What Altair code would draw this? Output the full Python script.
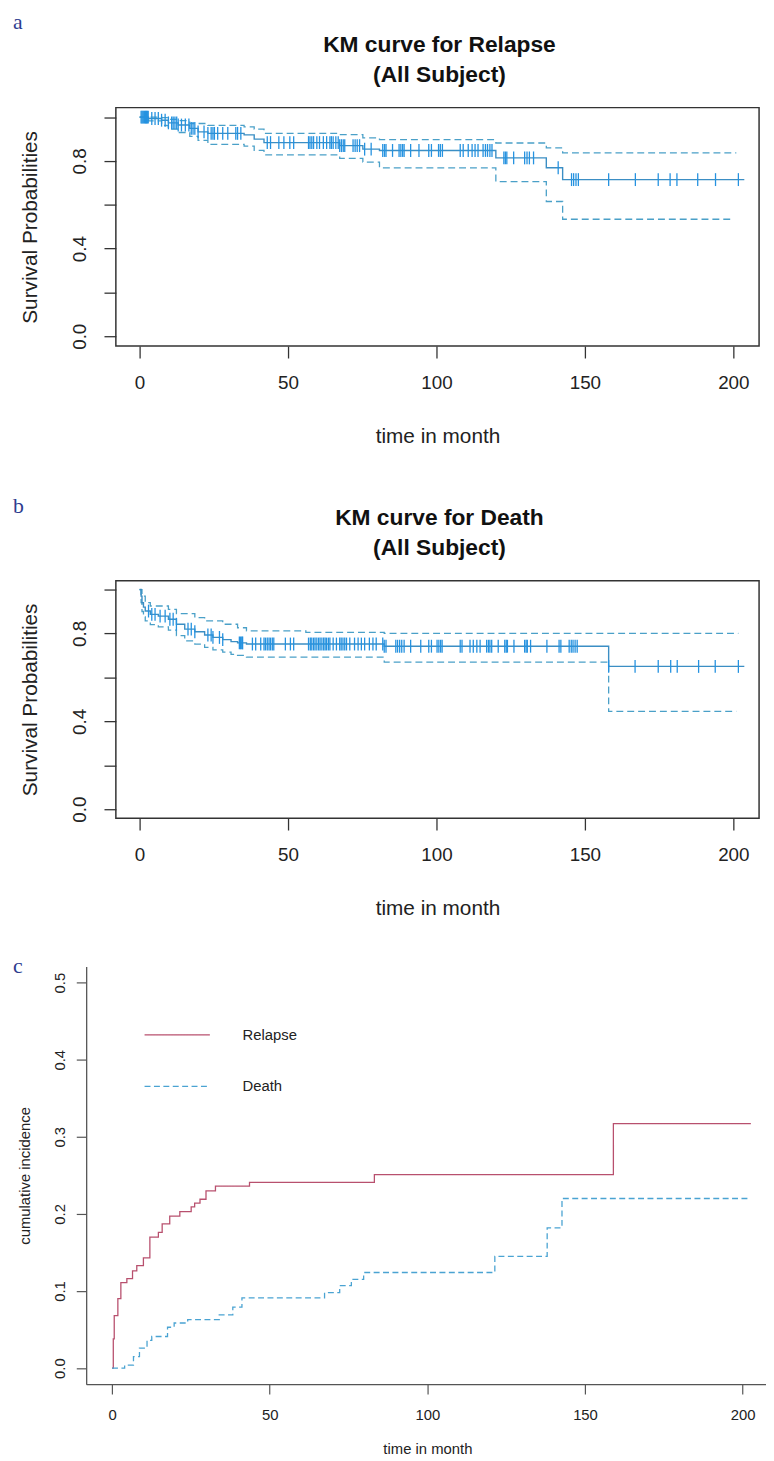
import altair as alt
import pandas as pd

FONT = "Liberation Sans"

# ---------------- Panel a : KM curve for Relapse ----------------
rel_km_time = [0, 3, 7.4, 9.7, 13, 16.9, 19.7, 23, 35.2, 38.6, 41.9, 67.4, 75.2, 80.8, 120, 137, 142.5, 203.7]
rel_km_surv = [1.0, 0.994, 0.986, 0.974, 0.964, 0.949, 0.933, 0.926, 0.919, 0.900, 0.884, 0.870, 0.854, 0.848, 0.814, 0.769, 0.715, 0.715]
rel_up_time = [0, 7.4, 9.7, 13, 16.9, 23, 35.2, 38.6, 41.9, 67.4, 75.2, 80.8, 120, 137, 142.5, 201]
rel_up_surv = [1.0, 0.998, 0.99, 0.984, 0.971, 0.963, 0.956, 0.945, 0.926, 0.92, 0.905, 0.897, 0.882, 0.86, 0.837, 0.837]
rel_lo_time = [0, 3, 7.4, 9.7, 13, 16.9, 19.7, 23, 35.2, 38.6, 41.9, 67.4, 75.2, 80.8, 120, 137, 142.5, 200]
rel_lo_surv = [1.0, 0.983, 0.962, 0.945, 0.93, 0.912, 0.894, 0.876, 0.868, 0.848, 0.828, 0.812, 0.795, 0.769, 0.706, 0.615, 0.534, 0.534]
rel_censor = [0.5, 0.8, 1.1, 1.4, 1.7, 2.0, 2.3, 2.6, 2.9, 4.1, 5.2, 6.3, 7.4, 8.6, 9.7, 10.8, 11.3, 11.9,
              12.5, 13.0, 14.1, 15.4, 16.6, 17.4, 18.0, 18.6, 19.7, 21.7, 23.0, 24.1, 24.7, 25.2, 26.3, 28.0,
              29.7, 32.4, 33.0, 34.1, 43.0, 44.1, 46.9, 48.6, 50.6, 51.9, 56.9, 57.4, 58.0, 58.6, 59.7, 60.6,
              61.9, 63.0, 64.1, 64.6, 65.2, 66.1, 66.9, 67.4, 68.0, 68.6, 69.1, 71.9, 72.6, 73.3, 74.1, 75.8,
              78.0, 81.9, 82.5, 83.0, 85.2, 87.4, 88.0, 88.6, 89.1, 91.3, 94.1, 97.4, 98.3, 100.7, 101.3, 102.0,
              108.0, 109.0, 110.7, 112.0, 113.0, 114.0, 115.7, 116.5, 117.2, 118.0, 118.7, 122.7, 123.2, 123.7,
              126.0, 129.7, 130.5, 131.3, 132.7, 141.0, 145.5, 146.2, 147.0, 147.8, 158.0, 167.0, 174.7, 178.7,
              181.0, 188.0, 194.0, 201.7]

# ---------------- Panel b : KM curve for Death ----------------
dth_km_time = [0, 0.5, 0.8, 1.3, 1.9, 3.6, 6.3, 9.7, 12.4, 15.2, 18.6, 21.9, 24.7, 28, 30.8, 33, 36, 82.4, 158, 203.7]
dth_km_surv = [1.0, 0.97, 0.94, 0.92, 0.902, 0.887, 0.879, 0.865, 0.842, 0.820, 0.808, 0.793, 0.782, 0.772, 0.763, 0.757, 0.752, 0.742, 0.65, 0.65]
dth_up_time = [0, 0.8, 1.9, 3.6, 9.7, 12.4, 18.6, 21.9, 28, 33, 36, 56, 82.4, 201.7]
dth_up_surv = [1.0, 0.97, 0.94, 0.925, 0.91, 0.89, 0.872, 0.857, 0.842, 0.826, 0.812, 0.805, 0.80, 0.80]
dth_lo_time = [0, 0.5, 0.8, 1.3, 1.9, 3.6, 6.3, 9.7, 12.4, 15.2, 18.6, 21.9, 24.7, 28, 30.8, 33, 36, 82.4, 158, 201]
dth_lo_surv = [1.0, 0.94, 0.9, 0.875, 0.857, 0.84, 0.83, 0.815, 0.79, 0.766, 0.752, 0.737, 0.725, 0.715, 0.705, 0.70, 0.692, 0.67, 0.445, 0.445]
dth_censor = [3.0, 4.1, 5.2, 6.9, 8.6, 10.2, 11.3, 12.4, 16.3, 17.4, 18.6, 23.0, 24.1, 24.7, 26.9, 28.0, 33.6,
              34.0, 34.4, 34.7, 38.0, 39.1, 40.8, 41.9, 42.4, 43.0, 43.6, 44.1, 44.7, 45.2, 49.1, 50.8, 51.9,
              56.9, 57.5, 58.0, 58.6, 59.1, 59.7, 60.3, 60.8, 61.4, 62.0, 62.5, 63.0, 63.6, 64.1, 65.2, 66.3,
              67.4, 67.9, 68.5, 69.1, 69.7, 70.8, 72.4, 73.6, 74.7, 75.8, 77.4, 78.6, 79.7, 81.9, 82.4, 83.0,
              86.3, 86.9, 87.6, 88.3, 89.1, 91.3, 94.7, 97.4, 98.3, 100.2, 100.8, 101.4, 101.9, 108.0, 108.6,
              111.3, 112.4, 113.6, 114.7, 116.9, 117.5, 118.0, 118.6, 120.8, 123.0, 123.5, 123.9, 126.1, 129.7,
              130.2, 130.6, 131.7, 137.2, 141.3, 141.9, 144.7, 145.4, 146.0, 146.7, 147.4, 158.0, 166.9, 174.7,
              178.9, 181.1, 188.3, 193.9, 201.7]

# ---------------- Panel c : cumulative incidence ----------------
cif_rel_time = [0, 0.4, 0.7, 1.85, 2.8, 4.7, 6.5, 7.85, 9.95, 12.0, 14.7, 15.9, 18.3, 21.5, 25.1, 26.2, 27.9,
                29.8, 32.8, 43.6, 83.2, 159, 202.6]
cif_rel_val = [0, 0.038, 0.068, 0.09, 0.111, 0.116, 0.126, 0.133, 0.143, 0.170, 0.176, 0.187, 0.197, 0.203,
               0.209, 0.214, 0.219, 0.23, 0.236, 0.241, 0.251, 0.317, 0.317]
cif_dth_time = [0, 4.0, 6.8, 8.7, 11.1, 12.6, 17.6, 19.7, 24.0, 34.0, 38.3, 41.2, 67.4, 72.2, 75.9, 79.8,
                121.4, 138, 142.7, 202.5]
cif_dth_val = [0, 0.004, 0.015, 0.026, 0.036, 0.041, 0.053, 0.0585, 0.063, 0.069, 0.079, 0.091, 0.098, 0.107,
               0.115, 0.124, 0.145, 0.182, 0.220, 0.220]
cif_events = ["Relapse", "Death"]

titles_a = "KM curve for Relapse\n(All Subject)"
titles_b = "KM curve for Death\n(All Subject)"
x_ticks = [0, 50, 100, 150, 200]
km_y_ticks = [0, 0.2, 0.4, 0.6, 0.8, 1.0]
cif_y_ticks = [0, 0.1, 0.2, 0.3, 0.4, 0.5]

LINE_COL = "#3b8ec4"
TICK_COL = "#2592e0"
CI_COL = "#4aa0c8"
RED = "#b8506e"
BLUE = "#4aa3d2"
LETTER_COL = "#2e3d8f"
TXT = "#222222"


def step_at(ts, ss, t):
    v = ss[0]
    for a, b in zip(ts, ss):
        if a <= t:
            v = b
    return v


def spacer(ypos):
    # invisible element fixing the panel's top extent in the stacked layout
    return alt.Chart(pd.DataFrame({"k": [0]})).mark_rule(opacity=0).encode(
        x=alt.value(0), x2=alt.value(1), y=alt.value(ypos), y2=alt.value(ypos))


def km_panel(km_t, km_s, up_t, up_s, lo_t, lo_s, cens, title_text, letter, letter_y, ydom, H):
    W = 680
    xenc = alt.X("t:Q", scale=alt.Scale(domain=[-18, 208.67], nice=False, zero=False),
                 axis=alt.Axis(values=x_ticks, title="time in month", domain=False, grid=False,
                               tickSize=12, tickColor="#333", tickWidth=1.3,
                               labelFontSize=19, labelFont=FONT, labelColor=TXT, labelPadding=16,
                               labelFlush=False, labelOverlap=False,
                               titleFontSize=21, titleFont=FONT, titleFontWeight="normal", titleColor=TXT,
                               titleX=355, titleY=97, titleBaseline="alphabetic", titleAlign="center"))
    yenc = alt.Y("s:Q", scale=alt.Scale(domain=ydom, nice=False, zero=False),
                 axis=alt.Axis(values=km_y_ticks,
                               labelExpr="(round(datum.value*10) % 4 == 0) ? format(datum.value, '.1f') : ''",
                               offset=-30, domain=False, grid=False, tickSize=12, tickColor="#333", tickWidth=1.3,
                               labelFontSize=19, labelFont=FONT, labelColor=TXT, labelAngle=270,
                               labelAlign="center", labelBaseline="bottom", labelPadding=15, labelOverlap=False,
                               title="Survival Probabilities", titleFontSize=21, titleFont=FONT,
                               titleFontWeight="normal", titleColor=TXT, titleAngle=270,
                               titleX=-80, titleY=H / 2, titleBaseline="alphabetic", titleAlign="center"))

    ci_df = pd.concat([
        pd.DataFrame({"t": up_t, "s": up_s, "bound": "upper"}),
        pd.DataFrame({"t": lo_t, "s": lo_s, "bound": "lower"}),
    ])
    km_df = pd.DataFrame({"t": km_t, "s": km_s})
    cens_df = pd.DataFrame({"t": cens, "s": [step_at(km_t, km_s, c) for c in cens]})

    frame = alt.Chart(pd.DataFrame({"k": [0]})).mark_rect(
        filled=False, stroke="#333", strokeWidth=1.5
    ).encode(x=alt.value(30), x2=alt.value(W), y=alt.value(0), y2=alt.value(H))
    ci = alt.Chart(ci_df).mark_line(interpolate="step-after", strokeDash=[7, 4], color=CI_COL,
                                    strokeWidth=1.3).encode(x=xenc, y=yenc, detail="bound:N")
    line = alt.Chart(km_df).mark_line(interpolate="step-after", color=LINE_COL,
                                      strokeWidth=1.4).encode(x=xenc, y=yenc)
    ticks = alt.Chart(cens_df).mark_tick(orient="vertical", size=13, thickness=1.3, color=TICK_COL,
                                         opacity=1).encode(x=xenc, y=yenc)
    lab = alt.Chart(pd.DataFrame({"lab": [letter]})).mark_text(
        align="left", baseline="alphabetic", font="Liberation Serif", fontSize=22, color=LETTER_COL
    ).encode(text="lab:N", x=alt.value(-74), y=alt.value(letter_y))
    ttl = alt.Chart(pd.DataFrame({"ttl": [title_text]})).mark_text(
        align="center", baseline="alphabetic", font=FONT, fontSize=23, fontWeight="bold", color="#111",
        lineBreak="\n", lineHeight=30
    ).encode(text="ttl:N", x=alt.value(357), y=alt.value(-56))

    return alt.layer(spacer(-112), frame, ci, line, ticks, lab, ttl).properties(width=W, height=H)


panel_a = km_panel(rel_km_time, rel_km_surv, rel_up_time, rel_up_surv, rel_lo_time, rel_lo_surv,
                   rel_censor, titles_a, "a", -79, [-0.045, 1.0435], 241)
panel_b = km_panel(dth_km_time, dth_km_surv, dth_up_time, dth_up_surv, dth_lo_time, dth_lo_surv,
                   dth_censor, titles_b, "b", -68, [-0.0405, 1.0405], 240)

# ---- panel c ----
CW, CH = 687, 422
cif_df = pd.concat([
    pd.DataFrame({"t": cif_rel_time, "v": cif_rel_val, "event": cif_events[0]}),
    pd.DataFrame({"t": cif_dth_time, "v": cif_dth_val, "event": cif_events[1]}),
])
cx = alt.X("t:Q", scale=alt.Scale(domain=[-8.2, 207.4], nice=False, zero=False),
           axis=alt.Axis(values=x_ticks, title="time in month", grid=False, domainColor="#555",
                         domainWidth=1.3, tickColor="#555", tickWidth=1.2, tickSize=10,
                         labelFontSize=15, labelFont=FONT, labelColor=TXT, labelPadding=14,
                         labelFlush=False, labelOverlap=False,
                         titleFontSize=15, titleFont=FONT, titleFontWeight="normal", titleColor=TXT,
                         titleY=70, titleBaseline="alphabetic", titleAlign="center",
                         titleX=(113.3 - 87) + 100 * 3.185))
cy = alt.Y("v:Q", scale=alt.Scale(domain=[-0.0208, 0.5208], nice=False, zero=False),
           axis=alt.Axis(values=cif_y_ticks, format=".1f", grid=False, domainColor="#555", domainWidth=1.3,
                         tickColor="#555", tickWidth=1.2, tickSize=10,
                         labelFontSize=15, labelFont=FONT, labelColor=TXT, labelAngle=270,
                         labelAlign="center", labelBaseline="bottom", labelPadding=9, labelOverlap=False,
                         title="cumulative incidence", titleFontSize=15, titleFont=FONT,
                         titleFontWeight="normal", titleColor=TXT, titleAngle=270,
                         titleX=-57, titleY=CH / 2, titleBaseline="alphabetic", titleAlign="center"))
leg = alt.Legend(title=None, orient="none", legendX=58, legendY=35, symbolType="stroke",
                 symbolSize=4356, symbolStrokeWidth=1.3, labelFontSize=15, labelFont=FONT,
                 labelColor=TXT, labelOffset=32, rowPadding=10, padding=0)
cif_lines = alt.Chart(cif_df).mark_line(interpolate="step-after", strokeWidth=1.3).encode(
    x=cx, y=cy,
    color=alt.Color("event:N", scale=alt.Scale(domain=cif_events, range=[RED, BLUE]), legend=leg),
    strokeDash=alt.StrokeDash("event:N", scale=alt.Scale(domain=cif_events, range=[[1, 0], [6, 3.5]]),
                              legend=leg),
)
c_lab = alt.Chart(pd.DataFrame({"lab": ["c"]})).mark_text(
    align="left", baseline="alphabetic", font="Liberation Serif", fontSize=22, color=LETTER_COL
).encode(text="lab:N", x=alt.value(-74), y=alt.value(6))
panel_c = alt.layer(spacer(-25), cif_lines, c_lab).properties(width=CW, height=CH)

chart = alt.vconcat(panel_a, panel_b, panel_c, spacing=24).resolve_legend(
    color="independent", strokeDash="independent"
).properties(
    padding={"left": 5, "top": -19, "right": 0, "bottom": 0}
).configure_view(strokeWidth=0)

chart.save("out.html", embed_options={"renderer": "svg", "actions": False})
